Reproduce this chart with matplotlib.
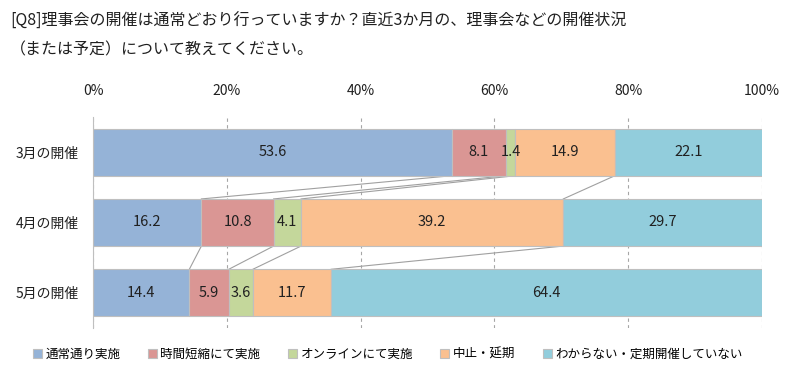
import numpy as np
import matplotlib.pyplot as plt

plt.rcParams['font.family'] = ['Noto Sans CJK JP', 'DejaVu Sans']

categories = ['3月の開催', '4月の開催', '5月の開催']
series = ['通常通り実施', '時間短縮にて実施', 'オンラインにて実施', '中止・延期', 'わからない・定期開催していない']
values = [
    [53.6, 16.2, 14.4],
    [8.1, 10.8, 5.9],
    [1.4, 4.1, 3.6],
    [14.9, 39.2, 11.7],
    [22.1, 29.7, 64.4],
]
colors = ['#95B3D7', '#DA9694', '#C4D79B', '#FAC090', '#92CDDC']
title = '[Q8]理事会の開催は通常どおり行っていますか？直近3か月の、理事会などの開催状況\n（または予定）について教えてください。'

fig = plt.figure(figsize=(7.93, 3.80), dpi=100)
ax = fig.add_axes([93/793, 1 - 328/380, 669/793, 211/380])

y = np.arange(len(categories))
h = 0.67
left = np.zeros(len(categories))
cums = []
for name, vals, c in zip(series, values, colors):
    vals = np.array(vals)
    ax.barh(y, vals, left=left, height=h, color=c, edgecolor='#BFBFBF',
            linewidth=0.8, label=name, zorder=3)
    for yi, (l, v) in enumerate(zip(left, vals)):
        ax.text(l + v / 2, yi, f'{v:.1f}', ha='center', va='center',
                fontsize=10.5, color='#202020', zorder=4)
    left = left + vals
    cums.append(left.copy())

# connector lines between bars
for cum in cums[:-1]:
    for i in range(len(categories) - 1):
        ax.plot([cum[i], cum[i + 1]], [i + h / 2, i + 1 - h / 2],
                color='#A0A0A0', linewidth=0.8, zorder=2)

ax.set_xlim(0, 100)
ax.set_ylim(len(categories) - 0.5, -0.5)
ax.set_yticks(y)
ax.set_yticklabels(categories, fontsize=10)
ax.set_xticks(np.arange(0, 101, 20))
ax.set_xticklabels([f'{v}%' for v in range(0, 101, 20)], fontsize=10)
ax.xaxis.tick_top()
ax.tick_params(length=0, pad=14, colors='#202020')
ax.tick_params(axis='y', pad=10)
ax.grid(axis='x', linestyle=(0, (3, 3)), color='#A6A6A6', linewidth=0.8, zorder=0)
for s in ax.spines.values():
    s.set_visible(False)
ax.spines['left'].set_visible(True)
ax.spines['left'].set_color('#BFBFBF')
ax.spines['left'].set_zorder(5)

fig.text(10/793, 1 - 13/380, title, ha='left', va='top', fontsize=11.5,
         color='#202020', linespacing=1.9)

fig.legend(loc='center', bbox_to_anchor=(0.489, 1 - 354/380), ncol=5, frameon=False,
           fontsize=9, handlelength=0.7, handleheight=0.7, handletextpad=0.3,
           columnspacing=2.2)

fig.savefig('out.png', dpi=100)
